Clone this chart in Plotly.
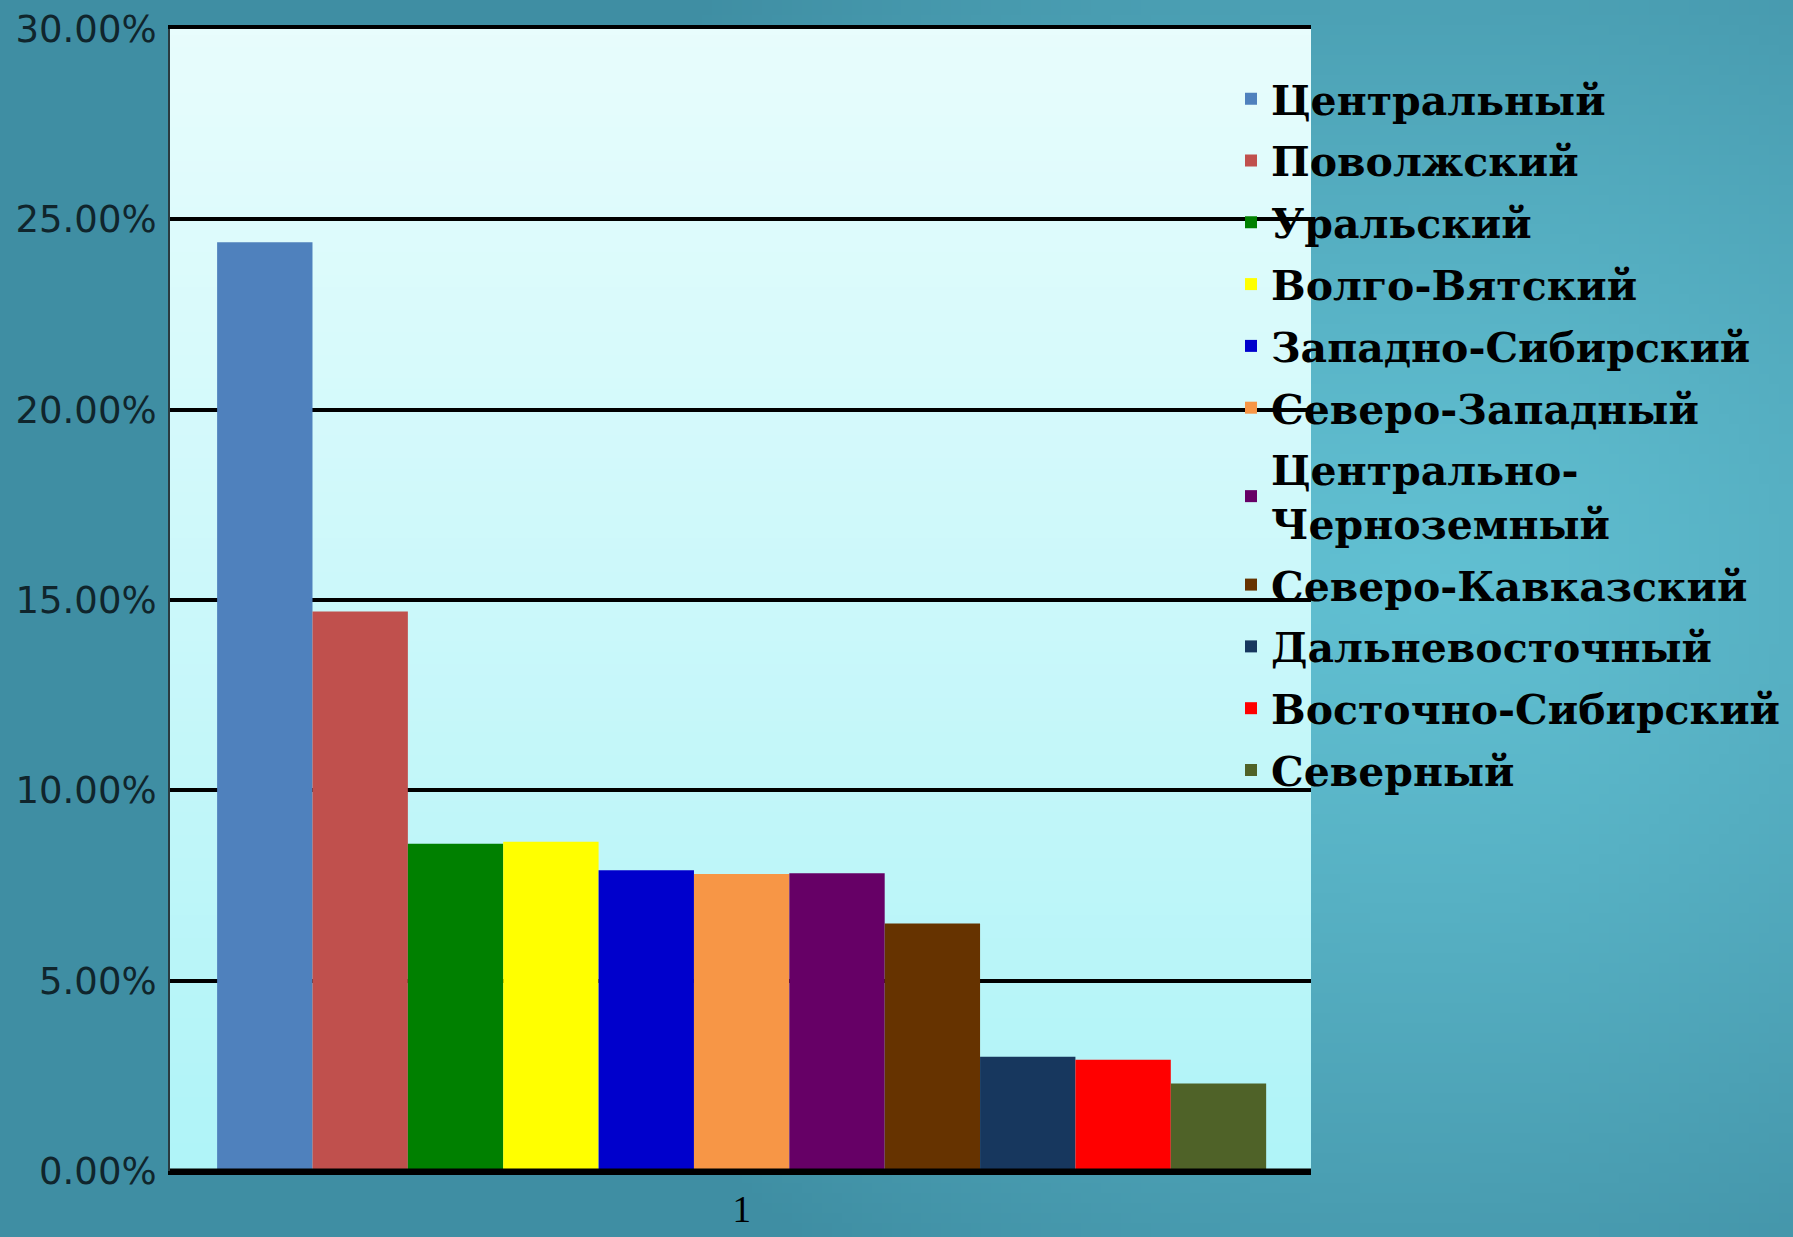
import base64
import struct
import zlib

import numpy as np
import plotly.graph_objects as go

# ---------------- data ----------------
regions = [
    "Центральный",
    "Поволжский",
    "Уральский",
    "Волго-Вятский",
    "Западно-Сибирский",
    "Северо-Западный",
    "Центрально-<br>Черноземный",
    "Северо-Кавказский",
    "Дальневосточный",
    "Восточно-Сибирский",
    "Северный",
]
shares_pct = [24.4, 14.7, 8.6, 8.65, 7.9, 7.8, 7.82, 6.5, 3.0, 2.92, 2.3]
category = ["1"]
y_ticks = [0.0, 0.05, 0.10, 0.15, 0.20, 0.25, 0.30]

colors = [
    "#4f81bd", "#c0504d", "#008000", "#ffff00", "#0000cc", "#f79646",
    "#660066", "#663300", "#17375e", "#ff0000", "#4f6228",
]

W, H = 1793, 1237
ML, MR, MT, MB = 170, 482, 29, 66
PW, PH = W - ML - MR, H - MT - MB


# ---------------- background gradient images ----------------
def png_uri(pix):
    h, w, _ = pix.shape
    raw = b"".join(b"\x00" + pix[r].tobytes() for r in range(h))

    def chunk(t, d):
        return (struct.pack(">I", len(d)) + t + d
                + struct.pack(">I", zlib.crc32(t + d) & 0xFFFFFFFF))

    png = (b"\x89PNG\r\n\x1a\n"
           + chunk(b"IHDR", struct.pack(">IIBBBBB", w, h, 8, 2, 0, 0, 0))
           + chunk(b"IDAT", zlib.compress(raw, 9))
           + chunk(b"IEND", b""))
    return "data:image/png;base64," + base64.b64encode(png).decode()


gw, gh = 180, 124
gx = np.linspace(0, 1, gw)[None, :]
gy = np.linspace(0, 1, gh)[:, None]
d = np.sqrt(((gx - 0.79) / 0.55) ** 2 + ((gy - 0.47) / 0.70) ** 2)
d = np.clip(d, 0, 1) ** 1.2
inner = np.array([98, 193, 211], float)
outer = np.array([63, 142, 163], float)
paper_pix = (inner[None, None, :] * (1 - d[..., None]) + outer[None, None, :] * d[..., None])
paper_pix = paper_pix.clip(0, 255).astype(np.uint8)

ph = 100
t = np.linspace(0, 1, ph)[:, None]
top_c = np.array([232, 253, 253], float)
bot_c = np.array([176, 244, 248], float)
plot_col = top_c[None, :] * (1 - t) + bot_c[None, :] * t
plot_pix = np.repeat(plot_col[:, None, :], 8, axis=1).clip(0, 255).astype(np.uint8)

# ---------------- figure ----------------
fig = go.Figure()
for i, (name, val, col) in enumerate(zip(regions, shares_pct, colors)):
    fig.add_trace(go.Bar(
        x=category, y=[val / 100.0], name=name,
        legendgroup=f"g{i}",
        marker=dict(color=col, line=dict(width=0)),
    ))

fig.update_layout(
    width=W, height=H,
    margin=dict(l=ML, r=MR, t=MT, b=MB, autoexpand=False),
    paper_bgcolor="#4f9fb5",
    plot_bgcolor="#cdf8fa",
    barmode="group",
    bargap=0.0806,
    bargroupgap=0.0,
    showlegend=True,
    legend=dict(
        x=(1231 - ML) / PW, y=0.968, xanchor="left", yanchor="top",
        bgcolor="rgba(0,0,0,0)",
        font=dict(family="DejaVu Serif", size=41, color="#000000", weight="bold"),
        traceorder="grouped",
        tracegroupgap=5.5,
        itemclick=False,
    ),
    images=[
        dict(source=png_uri(paper_pix), xref="paper", yref="paper",
             x=-ML / PW, y=1 + MT / PH, sizex=W / PW, sizey=H / PH,
             xanchor="left", yanchor="top", sizing="stretch", layer="below"),
        dict(source=png_uri(plot_pix), xref="x domain", yref="y domain",
             x=0, y=1, sizex=1, sizey=1, xanchor="left", yanchor="top",
             sizing="stretch", layer="below"),
    ],
)

fig.update_yaxes(
    range=[0, 0.30],
    tickvals=y_ticks,
    tickformat=".2%",
    showgrid=True, gridcolor="#000000", gridwidth=4,
    zeroline=False,
    showline=True, linecolor="#2a3a40", linewidth=2,
    ticks="",
    automargin=False,
    ticklabelstandoff=4,
    tickfont=dict(family="DejaVu Sans", size=37, color="#10252c"),
)
fig.update_xaxes(
    range=[-0.501, 0.499],
    showgrid=False,
    showline=True, linecolor="#000000", linewidth=4, mirror=True,
    ticks="",
    automargin=False,
    ticklabelstandoff=3,
    tickfont=dict(family="Liberation Serif", size=37, color="#000000"),
)
# thicker baseline like the reference
fig.add_hline(y=0, line=dict(color="#000000", width=5), layer="above")

fig.write_html(
    "out.html",
    config={"displayModeBar": False},
    post_script="document.body.style.margin='0';document.body.style.padding='0';",
)
